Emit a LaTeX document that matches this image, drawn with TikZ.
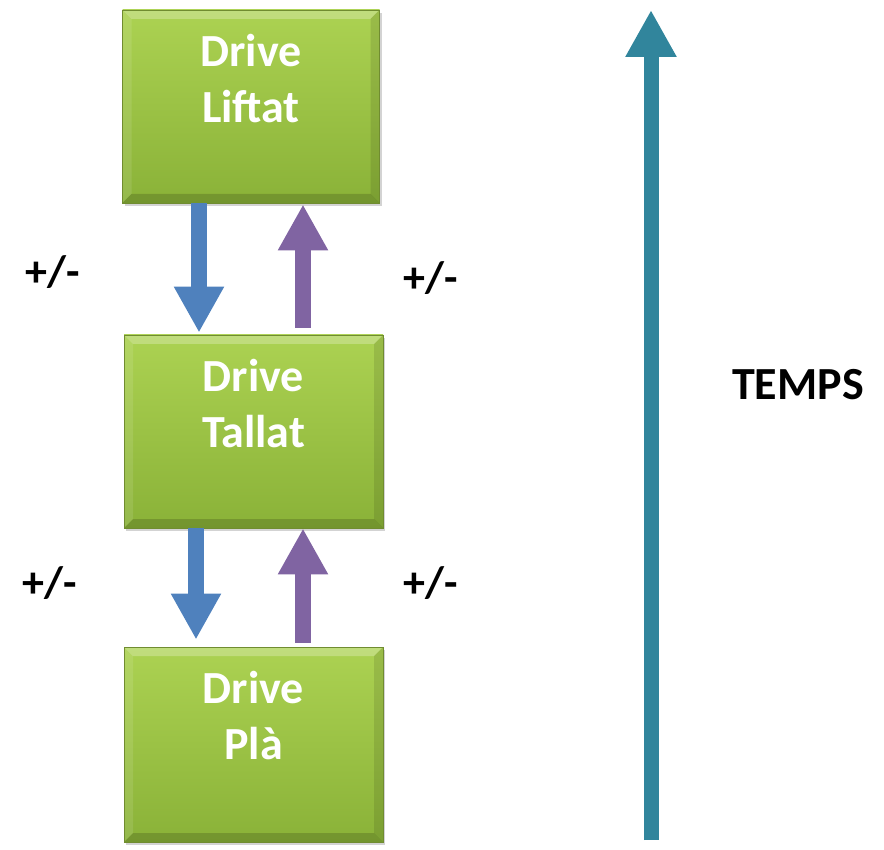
\documentclass[tikz,border=0pt]{standalone}
\usepackage{fontspec}
\setmainfont{Carlito}
\usetikzlibrary{arrows.meta,shadows}
\definecolor{boxtop}{RGB}{172,210,82}
\definecolor{boxbot}{RGB}{138,178,56}
\definecolor{boxedge}{RGB}{112,140,48}
\definecolor{downblue}{RGB}{79,129,189}
\definecolor{uppurple}{RGB}{128,100,162}
\definecolor{timeteal}{RGB}{49,133,156}
\begin{document}
\begin{tikzpicture}[x=1pt,y=-1pt,
  drive/.style={draw=boxedge,line width=0.8pt,top color=boxtop,bottom color=boxbot,
    minimum width=258pt,minimum height=193pt,inner sep=0pt,
    drop shadow={shadow xshift=2pt,shadow yshift=-3pt,opacity=0.35},
    path picture={
      \fill[white,opacity=0.25] (path picture bounding box.north west) -- (path picture bounding box.north east)
        -- ([xshift=-9pt,yshift=-9pt]path picture bounding box.north east) -- ([xshift=9pt,yshift=-9pt]path picture bounding box.north west) -- cycle;
      \fill[white,opacity=0.1] (path picture bounding box.north west) -- ([xshift=9pt,yshift=-9pt]path picture bounding box.north west)
        -- ([xshift=9pt,yshift=9pt]path picture bounding box.south west) -- (path picture bounding box.south west) -- cycle;
      \fill[black,opacity=0.1] (path picture bounding box.north east) -- ([xshift=-9pt,yshift=-9pt]path picture bounding box.north east)
        -- ([xshift=-9pt,yshift=9pt]path picture bounding box.south east) -- (path picture bounding box.south east) -- cycle;
      \fill[black,opacity=0.16] (path picture bounding box.south west) -- (path picture bounding box.south east)
        -- ([xshift=-9pt,yshift=9pt]path picture bounding box.south east) -- ([xshift=9pt,yshift=9pt]path picture bounding box.south west) -- cycle;
    }},
  drivename/.style={text=white,font=\fontsize{46}{56}\selectfont\bfseries,align=center,anchor=north,inner sep=0pt,yshift=-24pt},
  down/.style={draw=downblue,line width=16pt,-{Triangle[width=47pt,length=46pt]}},
  up/.style={draw=uppurple,line width=16pt,-{Triangle[width=47pt,length=46pt]}},
  pm/.style={font=\fontsize{44}{50}\selectfont\bfseries},
]
\useasboundingbox (0,0) rectangle (884,850);

% the three drives
\node[drive,minimum width=257pt] (liftat) at (251,106.5){};
\node[drive,minimum width=259pt] (tallat) at (253.5,431.5){};
\node[drive,minimum width=259pt,minimum height=195pt] (pla) at (253.5,744.5){};
\node[drivename] (liftatname) at (liftat.north){Drive\\Liftat};
\node[drivename] (tallatname) at (tallat.north){Drive\\Tallat};
\node[drivename] (planame) at (pla.north){Drive\\Plà};

% passing from one drive to the next
\draw[down] ([xshift=-52pt]liftat.south) -- ([xshift=-54.5pt,yshift=2pt]tallat.north);
\draw[up] ([xshift=49.5pt,yshift=7pt]tallat.north) -- ([xshift=52pt,yshift=-1pt]liftat.south);
\draw[down] ([xshift=-57.5pt]tallat.south) -- ([xshift=-57.5pt,yshift=7pt]pla.north);
\draw[up] ([xshift=49.5pt,yshift=4pt]pla.north) -- ([xshift=49.5pt]tallat.south);
\node[pm] (pm1) at (53,272){+/-};
\node[pm] (pm2) at (430.5,278){+/-};
\node[pm] (pm3) at (50,583){+/-};
\node[pm] (pm4) at (430.5,583){+/-};

% time axis
\coordinate (past) at (651,840);
\coordinate (future) at (651,10);
\draw[draw=timeteal,line width=15pt,-{Triangle[width=48pt,length=47pt]}] (past) -- (future);
\node[font=\fontsize{46}{52}\selectfont\bfseries] (temps) at (798,385){TEMPS};
\end{tikzpicture}
\end{document}
